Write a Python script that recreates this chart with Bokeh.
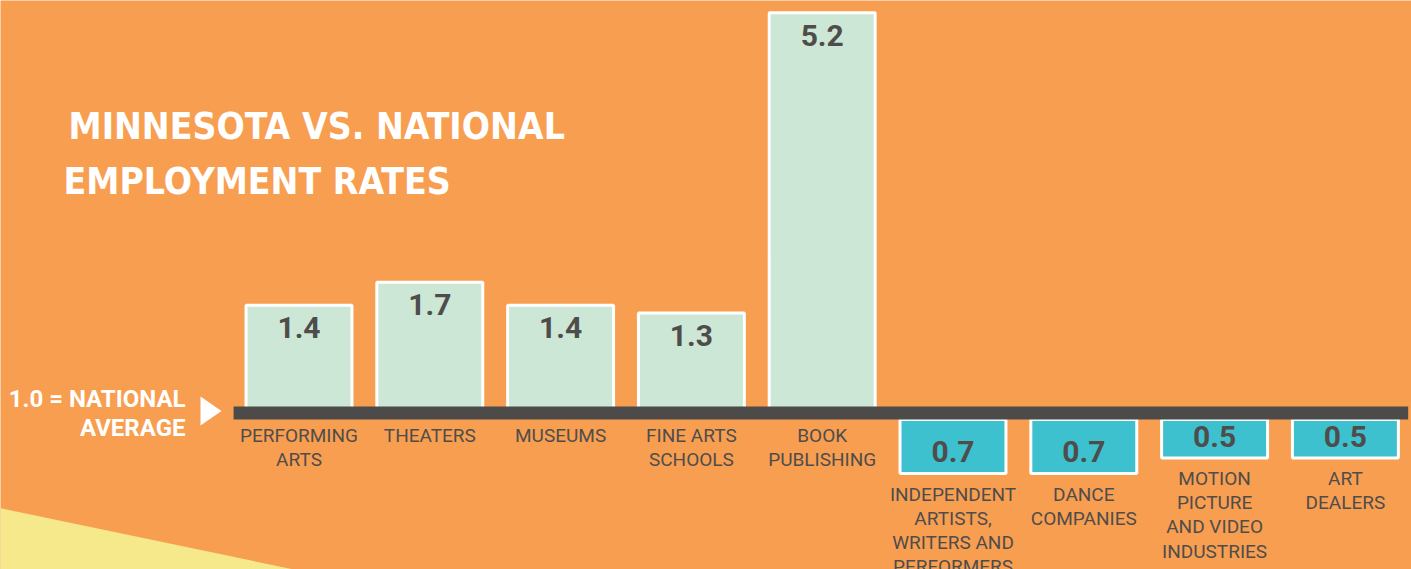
import numpy as np
from bokeh.plotting import figure
from bokeh.models import Range1d, ColumnDataSource
from bokeh.core.properties import value
from bokeh.embed import file_html
from bokeh.resources import INLINE

# ---------------- data ----------------
above_labels = ["PERFORMING\nARTS", "THEATERS", "MUSEUMS", "FINE ARTS\nSCHOOLS", "BOOK\nPUBLISHING"]
above_values = [1.4, 1.7, 1.4, 1.3, 5.2]
below_labels = ["INDEPENDENT\nARTISTS,\nWRITERS AND\nPERFORMERS", "DANCE\nCOMPANIES",
                "MOTION\nPICTURE\nAND VIDEO\nINDUSTRIES", "ART\nDEALERS"]
below_values = [0.7, 0.7, 0.5, 0.5]
title_lines = ["MINNESOTA VS. NATIONAL", "EMPLOYMENT RATES"]
ref_lines = ["1.0 = NATIONAL", "AVERAGE"]

# ---------------- layout / style ----------------
W, H = 1411, 569
SX = 130.8          # px per category step
X0 = 298.5          # px of first category centre
SY = 77.0           # px per unit value
Y0 = 412.6          # px of value 0

BG = "#F89E51"
GREEN = "#CDE7D6"
TEAL = "#3EC1CF"
DARK = "#4D4B4A"
GRAY = "#4F4D4B"
YELLOW = "#F6E98B"

def px(xp):
    return (xp - X0) / SX

def py(yp):
    return (Y0 - yp) / SY

p = figure(width=W, height=H, output_backend="svg", toolbar_location=None,
           x_range=Range1d(-X0 / SX, (W - X0) / SX),
           y_range=Range1d(-(H - Y0) / SY, Y0 / SY),
           x_axis_location=None, y_axis_location=None, min_border=0)
p.background_fill_color = BG
p.border_fill_color = BG
p.outline_line_color = None
p.grid.visible = False

# decorative yellow wedge in lower-left corner
p.patch([px(0), px(0), px(330), px(330)], [py(507.7), py(H + 10), py(H + 10), py(507.7 + 0.209 * 330)],
        fill_color=YELLOW, line_color=None)

n_above = len(above_values)
n_below = len(below_values)
xa = np.arange(n_above)
xb = np.arange(n_above, n_above + n_below)
half = 6.5 / SY
bw = 0.81

# above bars
src_a = ColumnDataSource(dict(x=xa, top=above_values, lab=above_labels,
                              txt=[f"{v:.1f}" for v in above_values]))
p.vbar(x="x", top="top", bottom=0, width=bw, source=src_a,
       fill_color=GREEN, line_color="white", line_width=3)

# below bars (hanging from the baseline)
bb = [-half - v for v in below_values]
src_b = ColumnDataSource(dict(x=xb, top=[-half] * n_below, bottom=bb, lab=below_labels,
                              txt=[f"{v:.1f}" for v in below_values]))
p.vbar(x="x", top="top", bottom="bottom", width=bw, source=src_b,
       fill_color=TEAL, line_color="white", line_width=3)

# baseline
p.quad(left=-0.5, right=n_above + n_below - 0.5 - 0.02, bottom=-half, top=half,
       fill_color=DARK, line_color=None)

# value labels
p.text(x=xa, y=[v - 12 / SY for v in above_values], text=src_a.data["txt"],
       text_align="center", text_baseline="top", text_font=value("Roboto"),
       text_font_style="bold", text_font_size="30px", text_color=GRAY)
p.text(x=xb, y=[b + 22 / SY for b in bb], text=src_b.data["txt"],
       text_align="center", text_baseline="alphabetic", text_font=value("Roboto"),
       text_font_style="bold", text_font_size="30px", text_color=GRAY)

# category labels
p.text(x=xa, y=[-half - 4 / SY] * n_above, text=above_labels,
       text_align="center", text_baseline="top", text_font=value("Roboto"),
       text_font_size="19px", text_color=GRAY, text_line_height=1.05)
p.text(x=xb, y=[b - 9 / SY for b in bb], text=below_labels,
       text_align="center", text_baseline="top", text_font=value("Roboto"),
       text_font_size="19px", text_color=GRAY, text_line_height=1.05)

# title
p.text(x=[px(68), px(63)], y=[py(126), py(181)], text=title_lines,
       text_align="left", text_baseline="alphabetic",
       text_font=value("DejaVu Sans Condensed"), text_font_style="bold",
       text_font_size="37px", text_color="white")

# national average note
p.text(x=[px(185), px(185)], y=[py(398.5), py(427)], text=ref_lines,
       text_align="right", text_baseline="alphabetic", text_font=value("Roboto"),
       text_font_style="bold", text_font_size="24px", text_color="white")
p.patch([px(200), px(200), px(221)], [py(396), py(425), py(410.5)],
        fill_color="white", line_color=None)

open("out.html", "w").write(file_html(p, INLINE))
